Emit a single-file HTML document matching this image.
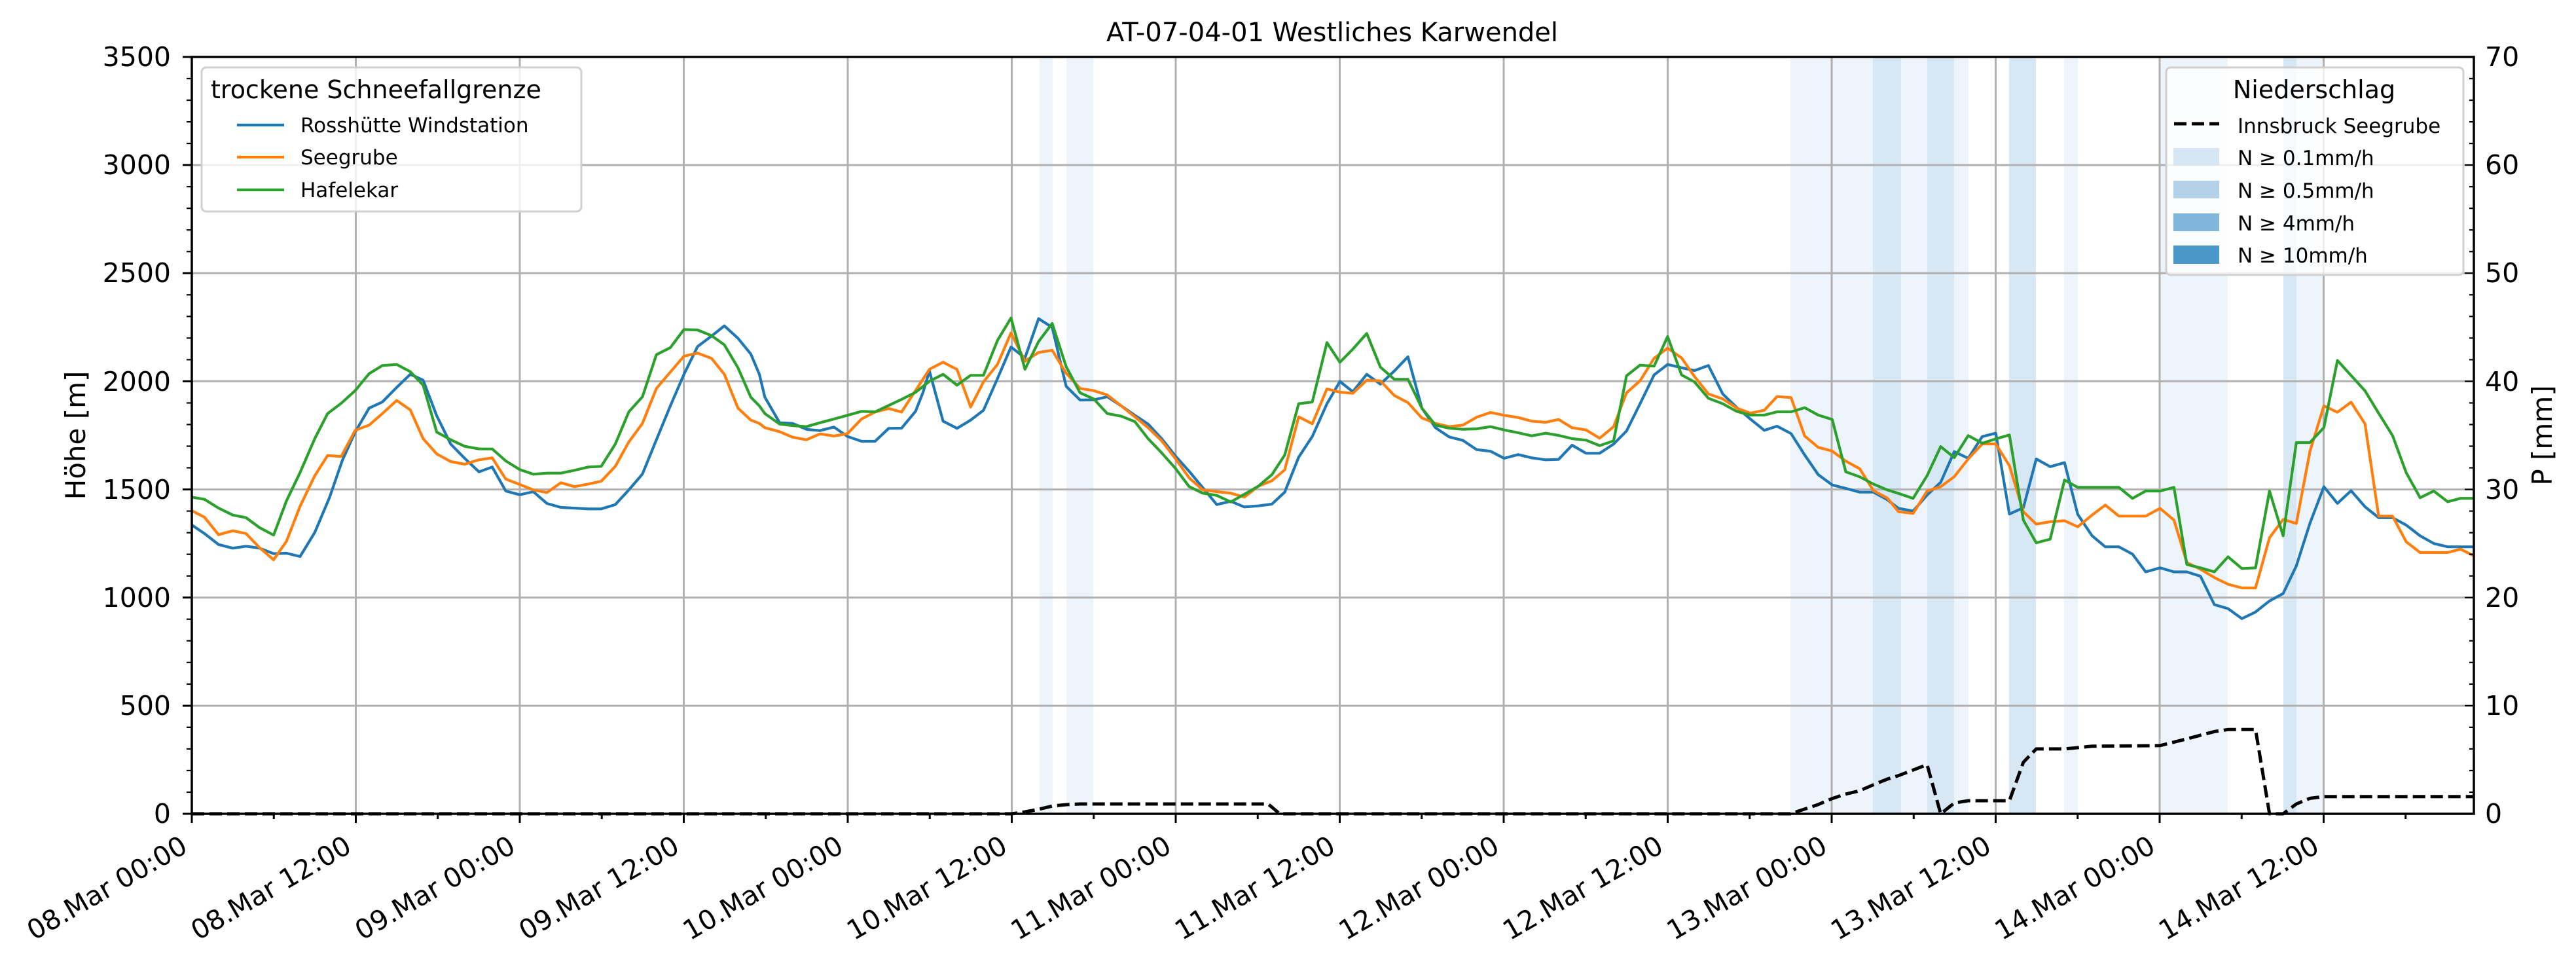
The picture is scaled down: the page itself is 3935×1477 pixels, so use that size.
<!DOCTYPE html>
<html><head><meta charset="utf-8"><style>
html,body{margin:0;padding:0;background:#fff}
svg{display:block}
text{font-family:"DejaVu Sans","Liberation Sans",sans-serif;fill:#000}
</style></head><body>
<svg width="3935" height="1477" viewBox="0 0 3935 1477" xmlns="http://www.w3.org/2000/svg">
<rect width="3935" height="1477" fill="#fff"/>
<!-- bands -->
<g>
<rect x="1588" y="87" width="20" height="1156" fill="#eef4fb"/>
<rect x="1629" y="87" width="41" height="1156" fill="#eef4fb"/>
<rect x="2735" y="87" width="126" height="1156" fill="#eef4fb"/>
<rect x="2861" y="87" width="43" height="1156" fill="#d8e7f4"/>
<rect x="2904" y="87" width="40" height="1156" fill="#eef4fb"/>
<rect x="2944" y="87" width="41" height="1156" fill="#d8e7f4"/>
<rect x="2985" y="87" width="22" height="1156" fill="#eef4fb"/>
<rect x="3069" y="87" width="41" height="1156" fill="#d8e7f4"/>
<rect x="3153" y="87" width="21" height="1156" fill="#eef4fb"/>
<rect x="3300" y="87" width="103" height="1156" fill="#eef4fb"/>
<rect x="3488" y="87" width="20" height="1156" fill="#d8e7f4"/>
<rect x="3508" y="87" width="42" height="1156" fill="#eef4fb"/>
</g>
<!-- grid -->
<g stroke="#b0b0b0" stroke-width="3">
<line x1="293" y1="1078" x2="3779" y2="1078"/>
<line x1="293" y1="912.7" x2="3779" y2="912.7"/>
<line x1="293" y1="747.6" x2="3779" y2="747.6"/>
<line x1="293" y1="582.4" x2="3779" y2="582.4"/>
<line x1="293" y1="417.3" x2="3779" y2="417.3"/>
<line x1="293" y1="252.1" x2="3779" y2="252.1"/>
<line x1="543.5" y1="87" x2="543.5" y2="1243"/>
<line x1="794" y1="87" x2="794" y2="1243"/>
<line x1="1044.5" y1="87" x2="1044.5" y2="1243"/>
<line x1="1295" y1="87" x2="1295" y2="1243"/>
<line x1="1545.5" y1="87" x2="1545.5" y2="1243"/>
<line x1="1796" y1="87" x2="1796" y2="1243"/>
<line x1="2046.5" y1="87" x2="2046.5" y2="1243"/>
<line x1="2297" y1="87" x2="2297" y2="1243"/>
<line x1="2547.5" y1="87" x2="2547.5" y2="1243"/>
<line x1="2798" y1="87" x2="2798" y2="1243"/>
<line x1="3048.5" y1="87" x2="3048.5" y2="1243"/>
<line x1="3299" y1="87" x2="3299" y2="1243"/>
<line x1="3549.5" y1="87" x2="3549.5" y2="1243"/>
</g>
<!-- series -->
<g fill="none" stroke-width="4.2" stroke-linejoin="round">
<polyline stroke="#1f77b4" points="292.8,801.7 312.4,815 333.8,831.7 355.7,837.3 375.9,834.3 396.6,837.3 418,845.7 437.6,845 458.4,850 480.8,813.3 503.3,760 522.9,703.3 542.5,660 563.9,623.3 584.1,614 606,591.7 626.7,571.7 646.4,580.7 667.1,635 688.5,678.3 709.8,700 731.7,720.7 751.9,713.3 772.6,750 794,755.7 814.7,751 835.5,769 856.8,775 898.9,777.3 918.5,777.3 939.9,770.7 960.6,748.3 981.4,724 1002.7,671.7 1024,620 1044.8,571.7 1065.6,529.3 1086.9,513.3 1106.5,497.7 1127.3,516.7 1146.9,540.7 1160,571.7 1168.4,606.7 1190.9,645.7 1210.5,646.7 1233,656 1252.6,657.7 1273.9,652.3 1294.7,666.7 1316,674 1336.8,674 1357.5,654.3 1377.2,654 1398.5,628.3 1409.7,600 1419.8,566.7 1440.6,643.3 1461.9,654.3 1482.7,641.7 1502.3,626.7 1523.7,578.3 1544.4,530 1565.7,546.7 1586.5,486.7 1607.3,500 1628.6,590 1649.9,611 1670.7,610.7 1691.5,606 1712.8,620 1733.6,634.3 1753.8,647.7 1774.5,670 1795.2,696 1816.6,720 1837.4,745 1858.7,770.7 1880,765.7 1900.8,774.3 1922.1,772.7 1942.9,770 1962.5,751.7 1983.8,698.3 2004.6,666.7 2027,616.7 2046.8,582.7 2066.5,598.3 2087.8,571.7 2108.6,586.7 2129.9,566.7 2150.7,545 2172,623.3 2192.7,653.3 2213.5,667.3 2234.8,672.7 2255.6,686.7 2276.9,689.3 2297.7,700 2319,694.3 2339.8,699.3 2361.1,702.3 2380.8,701.7 2401.5,680 2422.8,692.3 2443.6,692.3 2464.9,678.3 2484.6,658.3 2505.3,616.7 2526.7,572.7 2547.4,556.7 2568.7,561.7 2588.4,566 2609.7,558.3 2631.6,601.7 2652.9,622.3 2673.7,640 2695,657.3 2714.6,651 2736,662.3 2756.8,695 2777.5,725 2798.8,740.7 2819.6,746 2840.9,751.7 2861.7,751.7 2883,763.3 2900,776.5 2922.4,780.6 2943.8,756.1 2964.5,736.7 2985.3,689.8 3006.6,700 3028,666.8 3048.7,661.7 3069.5,785.2 3090.8,775.5 3110.5,701 3131.8,712.8 3153.7,706.6 3173.9,785.7 3195.8,818.4 3216,835.2 3236.7,835.2 3257.5,846.4 3277.7,873.5 3299.6,867.3 3320.9,873.5 3340.5,873.5 3361.3,880.1 3382.6,923.5 3403.4,929.6 3424.7,944.9 3445.5,934.7 3466.8,917.9 3487.6,906.6 3507.8,864.3 3528.5,799.5 3549.9,743.4 3570.6,768.9 3591.4,749.5 3612.7,774 3633.5,790.8 3654.8,790.8 3675.6,802 3696.9,818.4 3717.7,830.1 3739,835.2 3779,835.2"/>
<polyline stroke="#ff7f0e" points="292.8,780 312.4,790 333.8,816.7 355.7,810.7 375.9,815 396.6,836.7 418,855 437.6,826.7 458.4,773.3 480.8,726.7 500.4,695.7 521.2,697.3 542.5,657.3 563.9,649.3 584.1,631.7 606,611.7 626.7,626 646.4,670 667.1,693.3 688.5,705 709.8,709 731.7,702.3 751.9,699.3 772.6,731.7 794,740 814.7,748.3 835.5,752.3 856.8,737.3 877.6,743.3 898.9,739.3 918.5,735 939.9,712.3 960.6,675 981.4,646.7 1002.7,593.3 1024,568.3 1044.8,544 1065.6,539.3 1086.9,547.3 1106.5,571.7 1127.3,623.3 1146.9,641.7 1160,646.7 1168.4,653.3 1190.9,659.3 1210.5,667.7 1231.8,671.7 1252.6,662.7 1273.9,666 1294.7,662.3 1316,640 1336.8,629.3 1357.5,624 1377.2,629.3 1398.5,596.7 1419.8,564 1440.6,553.3 1461.9,564.3 1482.7,621.7 1502.3,583.3 1523.7,556.7 1544.4,508.3 1565.7,551.7 1586.5,538.3 1607.3,535 1628.6,570 1649.9,593.3 1670.7,596.7 1691.5,603.3 1712.8,620 1733.6,636.7 1753.8,653.3 1774.5,673.3 1795.2,700 1816.6,730 1837.4,748.3 1858.7,751 1880,753.3 1900.8,759.3 1922.1,742.7 1942.9,734.3 1962.5,717.7 1983.8,636.7 2004.6,647.3 2027,594 2046.8,599 2066.5,600.7 2087.8,580.7 2108.6,581.7 2129.9,604 2150.7,615 2172,638.3 2192.7,646.7 2213.5,651.7 2234.8,649.3 2255.6,637.3 2276.9,630 2297.7,634.3 2319,637.7 2339.8,643.3 2361.1,645 2380.8,640.7 2401.5,653.3 2422.8,656.7 2443.6,669.3 2464.9,651.7 2484.6,600 2505.3,581.7 2526.7,547.3 2547.4,531.7 2568.7,546.7 2588.4,575 2609.7,601.7 2631.6,609.3 2652.9,623.3 2673.7,631 2695,626.7 2714.6,605.7 2736,607.3 2756.8,666 2777.5,683.3 2798.8,689 2819.6,704.3 2840.9,716 2861.7,749.3 2883,760.7 2900,781.6 2922.4,784.2 2943.8,750 2964.5,743.4 2985.3,728.1 3006.6,701 3028,678.1 3048.7,678.1 3069.5,711.2 3090.8,781.6 3110.5,800.5 3131.8,796.9 3153.7,795.4 3173.9,804.6 3195.8,786.7 3216,771.4 3236.7,788.3 3257.5,788.3 3277.7,788.3 3299.6,776.5 3320.9,794.4 3340.5,859.2 3361.3,869.4 3382.6,882.1 3403.4,892.4 3424.7,898 3445.5,898 3466.8,821.4 3487.6,793.4 3507.8,799.5 3528.5,689.8 3549.9,619.9 3570.6,629.6 3591.4,614.3 3612.7,647.4 3633.5,788.3 3654.8,788.3 3675.6,827.5 3696.9,843.9 3717.7,843.9 3739,843.9 3758.6,838.8 3779,849"/>
<polyline stroke="#2ca02c" points="292.8,759.3 312.4,762.7 333.8,776 355.7,786.7 375.9,790.7 396.6,806 418,817.3 437.6,765 458.4,721.7 480.8,670 500.4,631.7 521.2,616 542.5,596.7 563.9,570.7 584.1,558.3 606,556.7 626.7,567.7 646.4,588.3 667.1,660 688.5,671.7 709.8,681.7 731.7,685.7 751.9,685.7 772.6,704 794,717.3 814.7,724.3 835.5,722.7 856.8,722.7 877.6,718.3 898.9,713.3 918.5,712.3 939.9,678.3 960.6,629 981.4,606 1002.7,541.7 1024,531 1044.8,503.3 1065.6,504 1086.9,512.7 1106.5,526.7 1127.3,561.7 1146.9,606.7 1160,620 1168.4,631.7 1190.9,647.7 1210.5,650 1231.8,651.7 1252.6,645.7 1273.9,640 1294.7,634.3 1316,628.3 1336.8,629 1357.5,619.3 1377.2,610 1398.5,599.3 1419.8,582.3 1440.6,571.7 1461.9,588.3 1482.7,573.3 1502.3,573.3 1523.7,520 1544.4,485.7 1565.7,564 1586.5,521.7 1607.3,494 1628.6,560 1649.9,600 1670.7,609.3 1691.5,631.7 1712.8,635.7 1733.6,644 1753.8,670 1774.5,691.7 1795.2,715 1816.6,743.3 1837.4,753.3 1858.7,756.7 1880,766.7 1900.8,755 1922.1,742.7 1942.9,725 1962.5,695 1983.8,616.7 2004.6,614 2027,523.3 2046.8,553.3 2066.5,533.3 2087.8,509.3 2108.6,560.7 2129.9,579.3 2150.7,579.3 2172,623.3 2192.7,649.3 2213.5,654 2234.8,655.7 2255.6,655 2276.9,651.7 2297.7,656.7 2319,661 2339.8,665.7 2361.1,661.7 2380.8,665 2401.5,670 2422.8,672.3 2443.6,680.7 2464.9,673.3 2484.6,574 2505.3,557.7 2526.7,559.3 2547.4,514 2568.7,572.7 2588.4,583.3 2609.7,608.3 2631.6,616.7 2652.9,628.3 2673.7,634 2695,634 2714.6,629 2736,629 2756.8,622.7 2777.5,634 2798.8,640.7 2819.6,720.7 2840.9,728.3 2861.7,739.3 2883,748.3 2900,753.6 2922.4,761.2 2943.8,726.5 2964.5,682.1 2985.3,699 3006.6,665.3 3028,677 3048.7,670.4 3069.5,664.3 3090.8,794.4 3110.5,829.1 3131.8,823.5 3153.7,733.2 3173.9,744.4 3195.8,744.4 3216,744.4 3236.7,744.4 3257.5,761.2 3277.7,750 3299.6,750 3320.9,744.4 3340.5,862.2 3361.3,867.3 3382.6,873.5 3403.4,850.5 3424.7,868.4 3445.5,867.3 3466.8,750 3487.6,818.4 3507.8,676 3528.5,676 3549.9,653.1 3570.6,550.5 3591.4,573.5 3612.7,596.9 3633.5,631.1 3654.8,665.3 3675.6,721.9 3696.9,760.2 3717.7,750 3739,766.3 3758.6,761.2 3779,761.2"/>
<polyline stroke="#000" stroke-width="5" stroke-dasharray="19,8" points="293,1243 1545,1243 1566,1240 1587,1236 1608,1231 1629,1229 1650,1228 1937,1228 1955,1243 2735,1243 2756,1236 2777,1229 2798,1220 2819,1213 2840,1208 2861,1199 2883,1190 2900,1184.7 2943.8,1167.9 2964.5,1243 2985.3,1226.5 3006.6,1223 3069.5,1223 3090.8,1164.3 3110.5,1143.9 3153.7,1143.9 3195.8,1139.8 3299.6,1138.8 3340.5,1128.6 3382.6,1117.4 3403.4,1114.3 3445.5,1114.3 3466.8,1243 3487.6,1243 3507.8,1228 3528.5,1219.4 3549.9,1216.8 3779,1216.8"/>
</g>
<!-- spines -->
<rect x="293" y="87" width="3486" height="1156" fill="none" stroke="#000" stroke-width="3.5"/>
<!-- left ticks -->
<g stroke="#000" stroke-width="3">
<line x1="279" y1="1243" x2="293" y2="1243"/><line x1="279" y1="1078" x2="293" y2="1078"/><line x1="279" y1="912.7" x2="293" y2="912.7"/><line x1="279" y1="747.6" x2="293" y2="747.6"/><line x1="279" y1="582.4" x2="293" y2="582.4"/><line x1="279" y1="417.3" x2="293" y2="417.3"/><line x1="279" y1="252.1" x2="293" y2="252.1"/><line x1="279" y1="87" x2="293" y2="87"/>
</g>
<g stroke="#000" stroke-width="2.2" id="minl"></g>
<g stroke="#000" stroke-width="3" id="tickx"></g>
<!-- left labels -->
<g font-size="41" text-anchor="end">
<text x="261" y="1257">0</text><text x="261" y="1092">500</text><text x="261" y="927">1000</text><text x="261" y="762">1500</text><text x="261" y="597">2000</text><text x="261" y="431">2500</text><text x="261" y="266">3000</text><text x="261" y="101">3500</text>
</g>
<g font-size="41" text-anchor="start">
<text x="3796" y="1257">0</text><text x="3796" y="1092">10</text><text x="3796" y="927">20</text><text x="3796" y="762">30</text><text x="3796" y="597">40</text><text x="3796" y="431">50</text><text x="3796" y="266">60</text><text x="3796" y="101">70</text>
</g>
<text font-size="42" text-anchor="middle" transform="translate(130,665) rotate(-90)">Höhe [m]</text>
<text font-size="42" text-anchor="middle" transform="translate(3898,665) rotate(-90)">P [mm]</text>
<text font-size="40" x="2035" y="63" text-anchor="middle">AT-07-04-01 Westliches Karwendel</text>
<g id="xl" font-size="41" text-anchor="end"></g>
<!-- legend 1 -->
<rect x="308" y="103" width="580" height="220" rx="7" fill="#fff" fill-opacity="0.8" stroke="#d0d0d0" stroke-width="3"/>
<text x="322" y="150" font-size="38">trockene Schneefallgrenze</text>
<line x1="362" y1="191" x2="434" y2="191" stroke="#1f77b4" stroke-width="4.2"/>
<line x1="362" y1="240" x2="434" y2="240" stroke="#ff7f0e" stroke-width="4.2"/>
<line x1="362" y1="290" x2="434" y2="290" stroke="#2ca02c" stroke-width="4.2"/>
<g font-size="31"><text x="459" y="202">Rosshütte Windstation</text><text x="459" y="251">Seegrube</text><text x="459" y="301">Hafelekar</text></g>
<!-- legend 2 -->
<rect x="3309" y="103" width="454" height="317" rx="7" fill="#fff" fill-opacity="0.8" stroke="#d0d0d0" stroke-width="3"/>
<text x="3535" y="150" font-size="38" text-anchor="middle">Niederschlag</text>
<line x1="3321" y1="189" x2="3390" y2="189" stroke="#000" stroke-width="5" stroke-dasharray="19,8"/>
<rect x="3320" y="226" width="70" height="27" fill="#d6e6f4"/>
<rect x="3320" y="276" width="70" height="27" fill="#b3d1e8"/>
<rect x="3320" y="326" width="70" height="27" fill="#7fb6d9"/>
<rect x="3320" y="375" width="70" height="28" fill="#4a97c9"/>
<g font-size="31"><text x="3418" y="203">Innsbruck Seegrube</text><text x="3418" y="252">N ≥ 0.1mm/h</text><text x="3418" y="302">N ≥ 0.5mm/h</text><text x="3418" y="352">N ≥ 4mm/h</text><text x="3418" y="401">N ≥ 10mm/h</text></g>
<script>
(function(){
var ns="http://www.w3.org/2000/svg";
function L(g,x1,y1,x2,y2){var l=document.createElementNS(ns,"line");l.setAttribute("x1",x1);l.setAttribute("y1",y1);l.setAttribute("x2",x2);l.setAttribute("y2",y2);g.appendChild(l);}
var ml=document.getElementById("minl");
for(var i=1;i<35;i++){if(i%5==0)continue;var y=1243-i*33.029;L(ml,285,y,293,y);}
for(var i=1;i<35;i++){var y=1243-i*33.029;var len=(i%5==0)?14:7;L(ml,3779-len,y,3779,y);}
var tx=document.getElementById("tickx");
for(var k=0;k<=27;k++){var x=293+k*125.25;if(x>3779)break;L(tx,x,1243,x,k%2==0?1257:1251);}
var xl=document.getElementById("xl");
for(var k=0;k<14;k++){var d=8+Math.floor(k/2);var s=(d<10?"0":"")+d+".Mar "+(k%2?"12:00":"00:00");
var t=document.createElementNS(ns,"text");var x=293+k*250.5;
t.setAttribute("transform","translate("+(x-4)+",1300) rotate(-30)");t.textContent=s;xl.appendChild(t);}
})();
</script>
</svg>
</body></html>
